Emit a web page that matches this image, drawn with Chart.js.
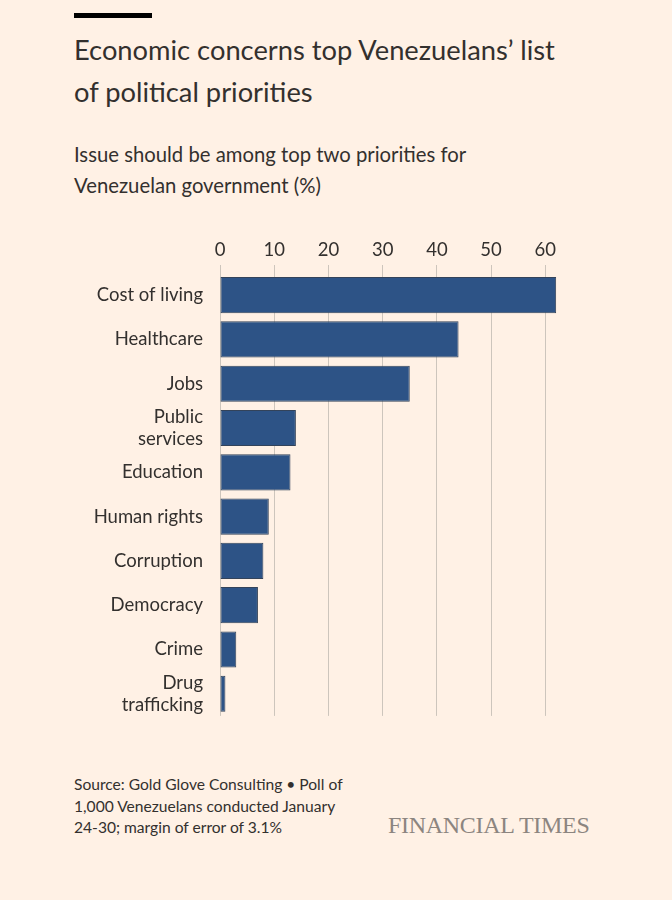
<!DOCTYPE html>
<html>
<head>
<meta charset="utf-8">
<script src="https://cdn.jsdelivr.net/npm/chart.js@4.4.1/dist/chart.umd.min.js"></script>
<style>
  html, body { margin: 0; padding: 0; }
  body { width: 672px; height: 900px; background: #fff1e5; position: relative; overflow: hidden;
         font-family: Lato, "Noto Sans", sans-serif; color: #33302e; }
  .rule { position: absolute; left: 74px; top: 13px; width: 78px; height: 5px; background: #000; }
  .title { position: absolute; left: 74px; top: 29px; font-size: 27.3px; line-height: 42px; margin: 0; font-weight: normal; }
  .sub { position: absolute; left: 74px; top: 139px; font-size: 20.3px; line-height: 31px; }
  .src { position: absolute; left: 74px; top: 774px; font-size: 15.6px; line-height: 21.5px; }
  .ft { position: absolute; left: 388px; top: 812px; font-family: "Liberation Serif", "DejaVu Serif", serif;
        font-size: 24px; color: #8c8580; letter-spacing: -0.3px; }
  #wrap { position: absolute; left: 0; top: 225px; width: 567px; height: 511px; }
</style>
</head>
<body>
<div class="rule"></div>
<h1 class="title">Economic concerns top Venezuelans’ list<br>of political priorities</h1>
<div class="sub">Issue should be among top two priorities for<br>Venezuelan government (%)</div>
<div id="wrap"><canvas id="chart"></canvas></div>
<div class="src">Source: Gold Glove Consulting • Poll of<br>1,000 Venezuelans conducted January<br>24-30; margin of error of 3.1%</div>
<div class="ft">FINANCIAL TIMES</div>

<script>
const issues = ['Cost of living', 'Healthcare', 'Jobs', ['Public', 'services'], 'Education',
                'Human rights', 'Corruption', 'Democracy', 'Crime', ['Drug', 'trafficking']];
const shares = [62, 44, 35, 14, 13, 9, 8, 7, 3, 1];
const xTicks = [0, 10, 20, 30, 40, 50, 60];

const ctx = document.getElementById('chart').getContext('2d');
new Chart(ctx, {
    type: 'bar',
    data: {
        labels: issues,
        datasets: [{
            data: shares,
            backgroundColor: '#2d5386',
            borderColor: '#33435a',
            borderWidth: 1,
            borderSkipped: false,
            categoryPercentage: 1,
            barPercentage: 0.816
        }]
    },
    options: {
        indexAxis: 'y',
        responsive: true,
        maintainAspectRatio: false,
        animation: false,
        layout: { padding: 0 },
        plugins: { legend: { display: false }, tooltip: { enabled: false } },
        scales: {
            x: {
                position: 'top',
                min: 0,
                max: 64,
                afterBuildTicks: scale => { scale.ticks = xTicks.map(v => ({ value: v })); },
                afterFit: scale => { scale.height = 48; },
                border: { display: false },
                grid: { color: '#cdc5bc', lineWidth: 1, drawTicks: true, tickLength: 8, tickColor: '#cdc5bc' },
                ticks: { color: '#33302e', font: { family: 'Lato', size: 18.5 }, padding: 4, maxRotation: 0 }
            },
            y: {
                afterFit: scale => { scale.width = 220; },
                border: { display: false },
                grid: { display: false },
                ticks: { color: '#33302e', font: { family: 'Lato', size: 18.5, lineHeight: 1.2 }, padding: 9, autoSkip: false }
            }
        }
    }
});
</script>
</body>
</html>
